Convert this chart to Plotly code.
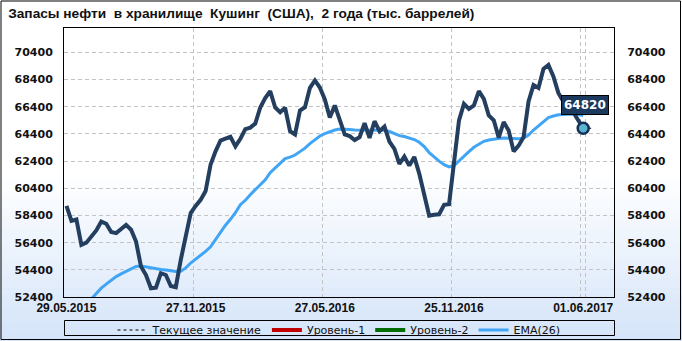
import plotly.graph_objects as go
import pandas as pd

# ---------------- data ----------------
title_text = "Запасы нефти  в хранилище  Кушинг  (США),  2 года (тыс. баррелей)"
dates = pd.date_range("2015-05-29", periods=105, freq="7D").strftime("%d.%m.%Y").tolist()
tick_idx = [0, 26, 52, 78, 104]
tick_labels = ["29.05.2015", "27.11.2015", "27.05.2016", "25.11.2016", "01.06.2017"]

stocks = [
    59100, 58000, 58100, 56240, 56400, 56800, 57300, 57950, 57790, 57180,
    57100, 57400, 57710, 57350, 56480, 54640, 54020, 53040, 53090, 54150,
    54020, 53210, 53120, 55130, 56850, 58580, 59100, 59550, 60200, 62140,
    63120, 63910, 64050, 64190, 63490, 64050, 64760, 64870, 65170, 66350,
    67050, 67550, 66350, 66000, 66330, 64600, 64360, 66130, 66370, 67800,
    68340, 67820, 66940, 65610, 66500, 65390, 64360, 64240, 63950, 64170,
    65200, 64110, 65340, 64610, 64950, 63840, 63300, 62200, 62730, 62070,
    62710, 61480, 59780, 58380, 58450, 58490, 59190, 59230, 62300, 65400,
    66620, 66250, 66500, 67550, 66980, 65760, 65410, 64130, 65280, 64650,
    63120, 63540, 64170, 66800, 68000, 67790, 69190, 69480, 68640, 67420,
    66800, 66300, 66000, 65450, 64820,
]
ema26 = [
    50300, 50800, 51250, 51650, 51950, 52250, 52650, 53050, 53350, 53650,
    53900, 54100, 54300, 54500, 54650, 54680, 54620, 54520, 54450, 54420,
    54390, 54320, 54270, 54300, 54540, 54900, 55170, 55430, 55760, 56090,
    56610, 57200, 57680, 58120, 58600, 59190, 59520, 59930, 60300, 60630,
    61030, 61550, 61890, 62220, 62590, 62700, 62850, 63100, 63360, 63690,
    63990, 64250, 64430, 64580, 64690, 64770, 64770, 64720, 64690, 64690,
    64670, 64670, 64670, 64670, 64670, 64580, 64430, 64280, 64210, 64110,
    63990, 63790, 63470, 63030, 62700, 62400, 62140, 61970, 62070, 62440,
    62750, 63100, 63420, 63650, 63860, 63960, 64040, 64070, 64110, 64100,
    64060, 64040, 64100, 64320, 64690, 65020, 65310, 65610, 65720, 65820,
    65830, 65870, 65870, 65830, 65760,
]
level1 = [None]   # no visible values in the range
level2 = [None]
current_value = stocks[-1]
y_ticks = list(range(52400, 70401, 2000))
y_tick_labels = [str(v) for v in y_ticks]
y_range = [52400, 72200]
x_range = [-0.5, 110.2]

# ---------------- style ----------------
W, H = 682, 341
ML, MR, MT, MB = 64, 68, 28, 44
PW, PH = W - ML - MR, H - MT - MB
DARK = "#233E5E"
EMA_C = "#41A5F5"

def px_x(px):
    return (px - ML) / PW

def px_y(py):
    return (H - MB - py) / PH

fig = go.Figure()

fig.add_trace(go.Scatter(x=[dates[0]] * len(level1), y=level1, mode="lines", name="Уровень-1",
                         line=dict(color="#C00000", width=4), legendrank=2))
fig.add_trace(go.Scatter(x=[dates[0]] * len(level2), y=level2, mode="lines", name="Уровень-2",
                         line=dict(color="#006B00", width=4), legendrank=3))
fig.add_trace(go.Scatter(x=dates, y=ema26, mode="lines", name="EMA(26)",
                         line=dict(color=EMA_C, width=3), legendrank=4))
fig.add_trace(go.Scatter(x=dates, y=stocks, mode="lines", name="Кушинг",
                         line=dict(color=DARK, width=4), showlegend=False))
fig.add_trace(go.Scatter(x=x_range, y=[current_value, current_value], mode="lines",
                         name="Текущее значение", yaxis="y2",
                         line=dict(color="#000000", width=1, dash="3px,3px"),
                         legendrank=1))
fig.add_trace(go.Scatter(x=[dates[-1]], y=[current_value], mode="markers", yaxis="y2",
                         showlegend=False,
                         marker=dict(size=11, color="#5BB5CC", line=dict(color="#14305A", width=2.5))))

# background gradient (figure-wide, lower part)
n = 40
top_px, bot_px = 175, 341
c0 = (255, 255, 255)
c1 = (212, 228, 249)
for i in range(n):
    t = (i + 0.5) / n
    col = tuple(int(round(c0[k] + (c1[k] - c0[k]) * t)) for k in range(3))
    y0p = top_px + (bot_px - top_px) * i / n
    y1p = top_px + (bot_px - top_px) * (i + 1) / n + 0.6
    fig.add_shape(type="rect", xref="paper", yref="paper",
                  x0=px_x(0), x1=px_x(W), y0=px_y(y1p), y1=px_y(y0p),
                  line=dict(width=0), fillcolor="rgb(%d,%d,%d)" % col, layer="below")

# outer border
fig.add_shape(type="rect", xref="paper", yref="paper",
              x0=px_x(1), x1=px_x(680.5), y0=px_y(339.5), y1=px_y(1),
              line=dict(color="#000000", width=1), fillcolor="rgba(0,0,0,0)", layer="above")
# legend box
fig.add_shape(type="rect", xref="paper", yref="paper",
              x0=px_x(64.5), x1=px_x(614.5), y0=px_y(335.5), y1=px_y(320.5),
              line=dict(color="#000000", width=1), fillcolor="rgba(0,0,0,0)", layer="above")

# value label
fig.add_annotation(x=dates[-1], y=current_value, yref="y2", text="<b>%d</b>" % current_value,
                   showarrow=False, yanchor="bottom", xanchor="center", yshift=13, xshift=2,
                   font=dict(family="DejaVu Sans", size=12, color="#FFFFFF"),
                   bgcolor="#1B3A5E", bordercolor="#000000", borderwidth=1, borderpad=2)

ytick_font = dict(family="DejaVu Sans", size=11, color="#111111", weight="bold")

fig.update_layout(
    width=W, height=H,
    margin=dict(l=ML, r=MR, t=MT, b=MB, pad=0, autoexpand=False),
    paper_bgcolor="#FFFFFF", plot_bgcolor="rgba(0,0,0,0)",
    title=dict(text=title_text, xref="container", yref="container", x=0.012, y=0.962,
               xanchor="left", yanchor="middle",
               font=dict(family="Liberation Sans", size=13.7,
                         color="#111111", weight="bold")),
    showlegend=True,
    legend=dict(orientation="h", x=0.5, xanchor="center", y=px_y(315.5), yanchor="top",
                bgcolor="rgba(0,0,0,0)", borderwidth=0,
                font=dict(family="DejaVu Sans", size=11, color="#111111"),
                itemwidth=30, tracegroupgap=0),
    xaxis=dict(type="category", categoryorder="array", categoryarray=dates,
               range=x_range, tickmode="array", automargin=False, tickangle=0,
               tickvals=[dates[i] for i in tick_idx], ticktext=tick_labels,
               tickson="boundaries", showgrid=True, gridcolor="#C4C4C4", griddash="4px,3px",
               gridwidth=1, showline=True, linecolor="#000000", linewidth=1, mirror=True,
               ticks="outside", ticklen=3, tickcolor="rgba(0,0,0,0)",
               tickfont=dict(family="Liberation Sans", size=12, color="#111111", weight="bold"),
               zeroline=False),
    yaxis=dict(range=y_range, tickmode="array", tickvals=y_ticks, ticktext=y_tick_labels,
               automargin=False,
               showgrid=True, gridcolor="#C4C4C4", griddash="4px,3px", gridwidth=1,
               showline=True, linecolor="#000000", linewidth=1, mirror=True,
               ticks="outside", ticklen=8, tickcolor="rgba(0,0,0,0)",
               tickfont=ytick_font, zeroline=False),
    yaxis2=dict(range=y_range, tickmode="array", tickvals=y_ticks, ticktext=y_tick_labels,
                overlaying="y", automargin=False,
                side="right", anchor="x", showgrid=False, showline=False, zeroline=False,
                ticks="outside", ticklen=10, tickcolor="rgba(0,0,0,0)", tickfont=ytick_font),
)

fig.write_html("out.html")
